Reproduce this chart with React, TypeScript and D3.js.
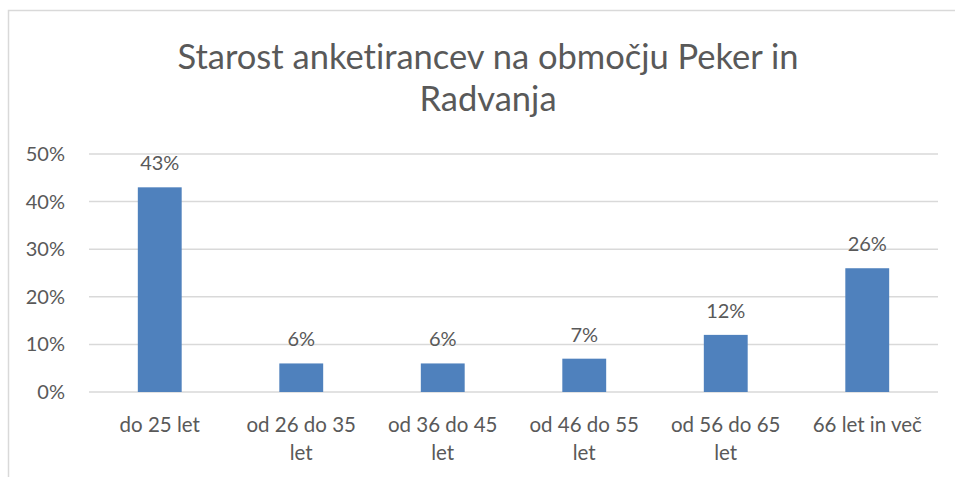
import React from "react";
import * as d3 from "d3";

const categories = ["do 25 let", "od 26 do 35 let", "od 36 do 45 let", "od 46 do 55 let", "od 56 do 65 let", "66 let in več"];
const values = [43, 6, 6, 7, 12, 26];
const yTicks = [0, 10, 20, 30, 40, 50];
const titleLines = ["Starost anketirancev na območju Peker in", "Radvanja"];

const W = 955;
const H = 477;
const FONT = "Lato, 'Open Sans', sans-serif";
const TEXT = "#595959";
const txtStyle = { fontVariantLigatures: "none" as const };

function wrap(label: string): string[] {
  if (label.length <= 13) return [label];
  const words = label.split(" ");
  return [words.slice(0, -1).join(" "), words[words.length - 1]];
}

export default function App() {
  const x = d3.scaleBand<string>().domain(categories).range([89, 938]).paddingInner(0.69).paddingOuter(0.345);
  const y = d3.scaleLinear().domain([0, 50]).range([392, 154]);
  return (
    <svg width={W} height={H} style={{ position: "absolute", left: 0, top: 0, background: "#fff" }}>
      <rect x={8.5} y={10.5} width={W + 10} height={H + 10} fill="#fff" stroke="#d9d9d9" strokeWidth={1.5} />
      {titleLines.map((t, i) => (
        <text key={i} x={488} y={69 + i * 42} textAnchor="middle" fontFamily={FONT} fontSize={34.5} fill={TEXT} style={txtStyle}>
          {t}
        </text>
      ))}
      {yTicks.map((t) => (
        <g key={t}>
          <line x1={89} x2={938} y1={y(t)} y2={y(t)} stroke="#d9d9d9" strokeWidth={1.5} />
          <text x={65} y={y(t) + 7} textAnchor="end" fontFamily={FONT} fontSize={20} fill={TEXT} style={txtStyle}>
            {t}%
          </text>
        </g>
      ))}
      {categories.map((c, i) => (
        <g key={c}>
          <rect x={x(c)} y={y(values[i])} width={x.bandwidth()} height={y(0) - y(values[i])} fill="#4f81bd" />
          <text x={(x(c) as number) + x.bandwidth() / 2} y={y(values[i]) - 17} textAnchor="middle" fontFamily={FONT} fontSize={20} fill={TEXT} style={txtStyle}>
            {values[i]}%
          </text>
          {wrap(c).map((l, j) => (
            <text key={j} x={(x(c) as number) + x.bandwidth() / 2} y={432 + j * 28} textAnchor="middle" fontFamily={FONT} fontSize={20.5} fill={TEXT} style={txtStyle}>
              {l}
            </text>
          ))}
        </g>
      ))}
    </svg>
  );
}
